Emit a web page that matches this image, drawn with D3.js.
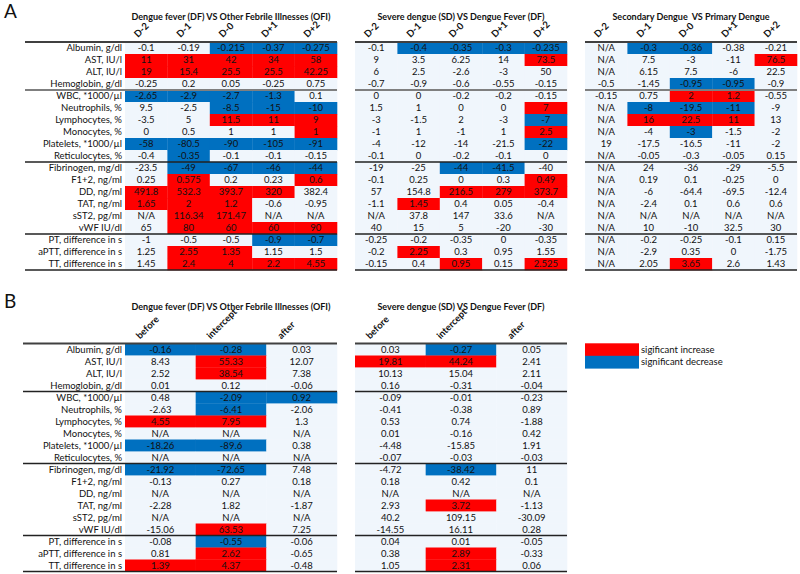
<!DOCTYPE html>
<html>
<head>
<meta charset="utf-8">
<script src="https://cdn.jsdelivr.net/npm/d3@7"></script>
<style>
  html, body { margin: 0; padding: 0; background: #fff; }
  svg { display: block; font-family: Lato, "Open Sans", sans-serif; }
</style>
</head>
<body>
<script>
// ---------- DATA ----------
const rowLabels = ["Albumin, g/dl","AST, IU/l","ALT, IU/l","Hemoglobin, g/dl","WBC, *1000/µl","Neutrophils, %","Lymphocytes, %","Monocytes, %","Platelets, *1000/µl","Reticulocytes, %","Fibrinogen, mg/dl","F1+2, ng/ml","DD, ng/ml","TAT, ng/ml","sST2, pg/ml","vWF IU/dl","PT, difference in s","aPTT, difference in s","TT, difference in s"];
const groupBreaks = [4, 10, 16];
const dayCols = ["D-2","D-1","D-0","D+1","D+2"];
const segCols = ["before","intercept","after"];

const titleDfOfi = "Dengue fever (DF) VS Other Febrile Illnesses (OFI)";
const titleSdDf = "Severe dengue (SD) VS Dengue Fever (DF)";
const titleSecPri = "Secondary Dengue  VS Primary Dengue";

// Panel A: DF vs OFI
const aDfOfiValues = [
  ["-0.1","-0.19","-0.215","-0.37","-0.275"],
  ["11","31","42","34","58"],
  ["19","15.4","25.5","25.5","42.25"],
  ["-0.25","0.2","0.05","-0.25","0.75"],
  ["-2.65","-2.9","-2.7","-1.3","0.1"],
  ["9.5","-2.5","-8.5","-15","-10"],
  ["-3.5","5","11.5","11","9"],
  ["0","0.5","1","1","1"],
  ["-58","-80.5","-90","-105","-91"],
  ["-0.4","-0.35","-0.1","-0.1","-0.15"],
  ["-23.5","-49","-67","-46","-44"],
  ["0.25","0.575","0.2","0.23","0.6"],
  ["491.8","532.3","393.7","320","382.4"],
  ["1.65","2","1.2","-0.6","-0.95"],
  ["N/A","116.34","171.47","N/A","N/A"],
  ["65","80","60","60","90"],
  ["-1","-0.5","-0.5","-0.9","-0.7"],
  ["1.25","2.55","1.35","1.15","1.5"],
  ["1.45","2.4","4","2.2","4.55"]
];
const aDfOfiSig = [
  [0,0,-1,-1,-1],[1,1,1,1,1],[1,1,1,1,1],[0,0,0,0,0],
  [-1,-1,-1,-1,0],[0,0,-1,-1,-1],[0,0,1,1,1],[0,0,0,0,1],[-1,-1,-1,-1,-1],[0,-1,0,0,0],
  [0,-1,-1,-1,-1],[0,1,0,0,1],[1,1,1,1,0],[1,1,1,0,0],[0,1,1,0,0],[0,1,1,1,1],
  [0,0,0,-1,-1],[0,1,1,0,0],[0,1,1,1,1]
];

// Panel A: SD vs DF
const aSdDfValues = [
  ["-0.1","-0.4","-0.35","-0.3","-0.235"],
  ["9","3.5","6.25","14","73.5"],
  ["6","2.5","-2.6","-3","50"],
  ["-0.7","-0.9","-0.6","-0.55","-0.15"],
  ["0","0","-0.2","-0.2","-0.15"],
  ["1.5","1","0","0","7"],
  ["-3","-1.5","2","-3","-7"],
  ["-1","1","-1","1","2.5"],
  ["-4","-12","-14","-21.5","-22"],
  ["-0.1","0","-0.2","-0.1","0"],
  ["-19","-25","-44","-41.5","-40"],
  ["-0.1","0.25","0","0.3","0.49"],
  ["57","154.8","216.5","279","373.7"],
  ["-1.1","1.45","0.4","0.05","-0.4"],
  ["N/A","37.8","147","33.6","N/A"],
  ["40","15","5","-20","-30"],
  ["-0.25","-0.2","-0.35","0","-0.35"],
  ["-0.2","2.25","0.3","0.95","1.55"],
  ["-0.15","0.4","0.95","0.15","2.525"]
];
const aSdDfSig = [
  [0,-1,-1,-1,-1],[0,0,0,0,1],[0,0,0,0,0],[0,0,0,0,0],
  [0,0,0,0,0],[0,0,0,0,1],[0,0,0,0,-1],[0,0,0,0,1],[0,0,0,0,-1],[0,0,0,0,0],
  [0,0,-1,-1,0],[0,0,0,0,1],[0,0,1,1,1],[0,1,0,0,0],[0,0,0,0,0],[0,0,0,0,0],
  [0,0,0,0,0],[0,1,0,0,0],[0,0,1,0,1]
];

// Panel A: Secondary vs Primary
const aSecPriValues = [
  ["N/A","-0.3","-0.36","-0.38","-0.21"],
  ["N/A","7.5","-3","-11","76.5"],
  ["N/A","6.15","7.5","-6","22.5"],
  ["-0.5","-1.45","-0.95","-0.95","-0.9"],
  ["-0.15","0.75","2","1.2","-0.55"],
  ["N/A","-8","-19.5","-11","-9"],
  ["N/A","16","22.5","11","13"],
  ["N/A","-4","-3","-1.5","-2"],
  ["19","-17.5","-16.5","-11","-2"],
  ["N/A","-0.05","-0.3","-0.05","0.15"],
  ["N/A","24","-36","-29","-5.5"],
  ["N/A","0.19","0.1","-0.25","0"],
  ["N/A","-6","-64.4","-69.5","-12.4"],
  ["N/A","-2.4","0.1","0.6","0.6"],
  ["N/A","N/A","N/A","N/A","N/A"],
  ["N/A","10","-10","32.5","30"],
  ["N/A","-0.2","-0.25","-0.1","0.15"],
  ["N/A","-2.9","0.35","0","-1.75"],
  ["N/A","2.05","3.65","2.6","1.43"]
];
const aSecPriSig = [
  [0,-1,-1,0,0],[0,0,0,0,1],[0,0,0,0,0],[0,0,-1,-1,0],
  [0,0,1,1,0],[0,-1,-1,-1,0],[0,1,1,1,0],[0,0,-1,0,0],[0,0,0,0,0],[0,0,0,0,0],
  [0,0,0,0,0],[0,0,0,0,0],[0,0,0,0,0],[0,0,0,0,0],[0,0,0,0,0],[0,0,0,0,0],
  [0,0,0,0,0],[0,0,0,0,0],[0,0,1,0,0]
];

// Panel B: DF vs OFI
const bDfOfiValues = [
  ["-0.16","-0.28","0.03"],
  ["8.43","55.33","12.07"],
  ["2.52","38.54","7.38"],
  ["0.01","0.12","-0.06"],
  ["0.48","-2.09","0.92"],
  ["-2.63","-6.41","-2.06"],
  ["4.55","7.95","1.3"],
  ["N/A","N/A","N/A"],
  ["-18.26","-89.6","0.38"],
  ["N/A","N/A","N/A"],
  ["-21.92","-72.65","7.48"],
  ["-0.13","0.27","0.18"],
  ["N/A","N/A","N/A"],
  ["-2.28","1.82","-1.87"],
  ["N/A","N/A","N/A"],
  ["-15.06","63.53","7.25"],
  ["-0.08","-0.55","-0.06"],
  ["0.81","2.62","-0.65"],
  ["1.39","4.37","-0.48"]
];
const bDfOfiSig = [
  [-1,-1,0],[0,1,0],[0,1,0],[0,0,0],
  [0,-1,-1],[0,-1,0],[1,1,0],[0,0,0],[-1,-1,0],[0,0,0],
  [-1,-1,0],[0,0,0],[0,0,0],[0,0,0],[0,0,0],[0,1,0],
  [0,-1,0],[0,1,0],[1,1,0]
];

// Panel B: SD vs DF
const bSdDfValues = [
  ["0.03","-0.27","0.05"],
  ["19.81","44.24","2.41"],
  ["10.13","15.04","2.11"],
  ["0.16","-0.31","-0.04"],
  ["-0.09","-0.01","-0.23"],
  ["-0.41","-0.38","0.89"],
  ["0.53","0.74","-1.88"],
  ["0.01","-0.16","0.42"],
  ["-4.48","-15.85","1.91"],
  ["-0.07","-0.03","-0.03"],
  ["-4.72","-38.42","11"],
  ["0.18","0.42","0.1"],
  ["N/A","N/A","N/A"],
  ["2.93","3.72","-1.13"],
  ["40.2","109.15","-30.09"],
  ["-14.55","16.11","0.28"],
  ["0.04","0.01","-0.05"],
  ["0.38","2.89","-0.33"],
  ["1.05","2.31","0.06"]
];
const bSdDfSig = [
  [0,-1,0],[1,1,0],[0,0,0],[0,0,0],
  [0,0,0],[0,0,0],[0,0,0],[0,0,0],[0,0,0],[0,0,0],
  [0,-1,0],[0,0,0],[0,0,0],[0,1,0],[0,0,0],[0,0,0],
  [0,0,0],[0,1,0],[0,1,0]
];

const legendItems = [
  {label: "sigificant increase", sig: 1},
  {label: "significant decrease", sig: -1}
];

// ---------- STYLE ----------
const W = 800, H = 574;
const RED = "#ff0000", BLUE = "#0070c0", BG = "#f0f6fc";
const fontSize = 9.5;
const titleSize = 9;
const rowH = 12;
const sigColor = d3.scaleOrdinal().domain([-1, 0, 1]).range([BLUE, BG, RED]);

const svg = d3.select("body").append("svg").attr("width", W).attr("height", H);

function drawTable(cfg) {
  const g = svg.append("g");
  const x = d3.scaleBand().domain(cfg.cols).range([cfg.x0, cfg.x1]);
  const y = d3.scaleBand().domain(d3.range(rowLabels.length)).range([cfg.top, cfg.top + rowH * rowLabels.length]);

  const cells = [];
  cfg.values.forEach((row, i) => row.forEach((v, j) => cells.push({i, j, v, s: cfg.sig[i][j]})));
  g.selectAll("rect.cell").data(cells).join("rect")
    .attr("class", "cell")
    .attr("x", d => x(cfg.cols[d.j]))
    .attr("y", d => y(d.i))
    .attr("width", x.bandwidth() + 0.3)
    .attr("height", y.bandwidth() + 0.3)
    .attr("fill", d => sigColor(d.s));
  g.selectAll("text.val").data(cells).join("text")
    .attr("class", "val")
    .attr("x", d => x(cfg.cols[d.j]) + x.bandwidth() / 2)
    .attr("y", d => y(d.i) + y.bandwidth() / 2 + 3.4)
    .attr("text-anchor", "middle")
    .attr("font-size", fontSize)
    .attr("fill", "#111")
    .text(d => d.v);

  if (cfg.labels) {
    g.selectAll("text.lab").data(rowLabels).join("text")
      .attr("class", "lab")
      .attr("x", cfg.x0 - 3)
      .attr("y", (d, i) => y(i) + y.bandwidth() / 2 + 3.4)
      .attr("text-anchor", "end")
      .attr("font-size", fontSize)
      .attr("fill", "#111")
      .text(d => d);
  }

  g.selectAll("text.hdr").data(cfg.cols).join("text")
    .attr("class", "hdr")
    .attr("transform", d => `translate(${x(d) + cfg.hdrOffset},${cfg.top - 4}) rotate(-45)`)
    .attr("font-size", fontSize)
    .attr("font-weight", "bold")
    .attr("fill", "#111")
    .text(d => d);

  g.append("text")
    .attr("x", (cfg.x0 + cfg.x1) / 2)
    .attr("y", cfg.titleY)
    .attr("text-anchor", "middle")
    .attr("font-size", titleSize)
    .attr("font-weight", "bold")
    .attr("fill", "#111")
    .style("white-space", "pre")
    .text(cfg.title);

  const lx0 = cfg.lineLeft;
  const rules = [{r: 0, c: "#404040", w: 2}]
    .concat(groupBreaks.map((b, k) => ({r: b, c: (k === 0 && cfg.panel === "A") ? "#7f7f7f" : "#222", w: (k === 0 && cfg.panel === "A") ? 2 : 1.3})))
    .concat([{r: rowLabels.length, c: "#222", w: 1.3}]);
  g.selectAll("line.rule").data(rules).join("line")
    .attr("class", "rule")
    .attr("x1", lx0).attr("x2", cfg.x1)
    .attr("y1", d => cfg.top + d.r * rowH)
    .attr("y2", d => cfg.top + d.r * rowH)
    .attr("stroke", d => d.c)
    .attr("stroke-width", d => d.w);
}

// Panel A
drawTable({panel: "A", cols: dayCols, values: aDfOfiValues, sig: aDfOfiSig, x0: 125, x1: 337, lineLeft: 25, top: 42, labels: true, title: titleDfOfi, titleY: 19.5, hdrOffset: 13});
drawTable({panel: "A", cols: dayCols, values: aSdDfValues, sig: aSdDfSig, x0: 355, x1: 567, lineLeft: 355, top: 42, labels: false, title: titleSdDf, titleY: 19.5, hdrOffset: 13});
drawTable({panel: "A", cols: dayCols, values: aSecPriValues, sig: aSecPriSig, x0: 585, x1: 797, lineLeft: 585, top: 42, labels: false, title: titleSecPri, titleY: 19.5, hdrOffset: 13});

// Panel B
drawTable({panel: "B", cols: segCols, values: bDfOfiValues, sig: bDfOfiSig, x0: 125, x1: 337, lineLeft: 23, top: 343.5, labels: true, title: titleDfOfi, titleY: 309.5, hdrOffset: 15});
drawTable({panel: "B", cols: segCols, values: bSdDfValues, sig: bSdDfSig, x0: 355, x1: 567, lineLeft: 355, top: 343.5, labels: false, title: titleSdDf, titleY: 309.5, hdrOffset: 15});

// Panel letters
svg.append("text").attr("x", 4).attr("y", 18).attr("font-size", 19).attr("fill", "#111").text("A");
svg.append("text").attr("x", 4).attr("y", 308).attr("font-size", 19).attr("fill", "#111").text("B");

// Legend
const ly = d3.scaleBand().domain(legendItems.map(d => d.label)).range([343.3, 368.3]);
const lg = svg.append("g");
lg.selectAll("rect").data(legendItems).join("rect")
  .attr("x", 585).attr("y", d => ly(d.label))
  .attr("width", 54).attr("height", ly.bandwidth() + 0.3)
  .attr("fill", d => sigColor(d.sig));
lg.selectAll("text").data(legendItems).join("text")
  .attr("x", 641).attr("y", d => ly(d.label) + ly.bandwidth() / 2 + 3.4)
  .attr("font-size", fontSize).attr("fill", "#111")
  .text(d => d.label);
</script>
</body>
</html>
